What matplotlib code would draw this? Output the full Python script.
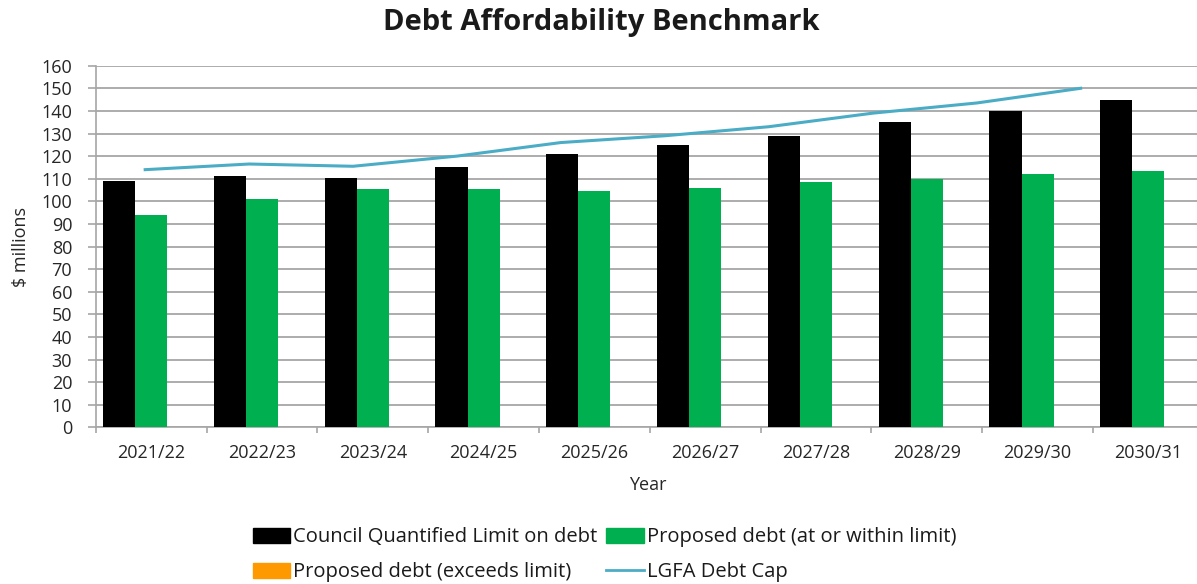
import numpy as np
import matplotlib
matplotlib.use("Agg")
import matplotlib.pyplot as plt
from matplotlib.patches import Patch
from matplotlib.lines import Line2D

plt.rcParams["font.family"] = ["Open Sans", "DejaVu Sans"]

# Data
years = ["2021/22", "2022/23", "2023/24", "2024/25", "2025/26",
         "2026/27", "2027/28", "2028/29", "2029/30", "2030/31"]
council_limit = [109, 111, 110.5, 115, 121, 125, 129, 135, 140, 145]
proposed_within = [94, 101, 105.5, 105.5, 104.7, 105.7, 108.7, 110, 112, 113.5]
proposed_exceeds = [0, 0, 0, 0, 0, 0, 0, 0, 0, 0]
lgfa_cap = [114, 116.5, 115.5, 120, 126, 129, 133, 139, 143.5, 150]

c_black = "#000000"
c_green = "#00B050"
c_orange = "#FF9900"
c_line = "#4BACC6"

fig = plt.figure(figsize=(11.97, 5.84), dpi=100)
ax = fig.add_axes([0.080, 0.2683, 0.922, 0.6192])

x = np.arange(len(years))
w = 0.29
ax.bar(x - w, council_limit, w, color=c_black, zorder=3)
ax.bar(x, proposed_within, w, color=c_green, zorder=3)
ax.bar(x + w, proposed_exceeds, w, color=c_orange, zorder=3)

# the cap line sits on its own (secondary) category scale in the original
xl = -0.054 + np.arange(len(lgfa_cap)) * 0.938
ax.plot(xl, lgfa_cap, color=c_line, lw=2.2, zorder=4)

ax.set_xlim(-0.5, 9.46)
ax.set_ylim(0, 160)
ax.set_yticks(np.arange(0, 161, 10))
ax.yaxis.grid(True, color="#a6a6a6", lw=1.3)
ax.set_axisbelow(True)

ax.set_xticks(np.arange(-0.5, 9.5, 1.0))
ax.set_xticklabels([])
ax.set_xticks(x, minor=True)
ax.set_xticklabels(years, minor=True, fontsize=13, color="#262626")
ax.tick_params(axis="x", which="minor", length=0, pad=12)
ax.tick_params(axis="x", which="major", length=4, color="#a6a6a6", width=1.2)
ax.tick_params(axis="y", length=6, color="#a6a6a6", width=1.2,
               labelsize=13, labelcolor="#262626", pad=11)

for s in ["top", "right"]:
    ax.spines[s].set_visible(False)
for s in ["left", "bottom"]:
    ax.spines[s].set_color("#a6a6a6")
    ax.spines[s].set_linewidth(1.2)

ax.set_xlabel("Year", fontsize=13, color="#262626", labelpad=10)
ax.set_ylabel("$ millions", fontsize=13, color="#262626", labelpad=8)

fig.text(0.502, 0.962, "Debt Affordability Benchmark", ha="center",
         va="center", fontsize=21, fontweight="bold", color="#1a1a1a")

handles = [Patch(color=c_black), Patch(color=c_orange),
           Patch(color=c_green), Line2D([], [], color=c_line, lw=2)]
labels = ["Council Quantified Limit on debt", "Proposed debt (exceeds limit)",
          "Proposed debt (at or within limit)", "LGFA Debt Cap"]
fig.legend(handles, labels, ncol=2, loc="center", bbox_to_anchor=(0.505, 0.05),
           frameon=False, fontsize=14.5, handlelength=1.85, handleheight=0.75,
           handletextpad=0.15, columnspacing=0.45, labelspacing=0.75,
           labelcolor="#1a1a1a")

fig.savefig("out.png", dpi=100)
